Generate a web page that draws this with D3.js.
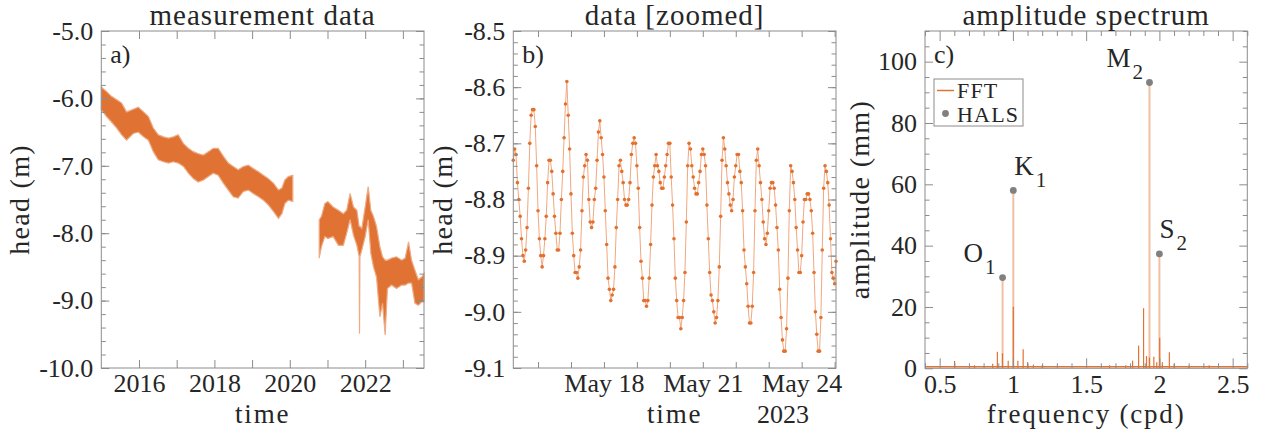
<!DOCTYPE html>
<html>
<head>
<meta charset="utf-8">
<script src="https://cdn.jsdelivr.net/npm/d3@7"></script>
<style>
  body { margin: 0; background: #fff; }
</style>
</head>
<body>
<svg id="chart"></svg>
<script>
const width = 1261, height = 434;
const serif = '"Liberation Serif", "Times New Roman", serif';
const grey = "#8c8c8c", ink = "#262626", orange = "#e07333";

// a) long record, drawn as the min/max band of the hourly heads; null marks the logger gap
const headYear = [2015.00, 2015.14, 2015.27, 2015.41, 2015.54, 2015.67, 2015.85, 2015.98, 2016.12, 2016.25,
  2016.38, 2016.51, 2016.65, 2016.78, 2016.91, 2017.04, 2017.18, 2017.31, 2017.44, 2017.57,
  2017.71, 2017.84, 2017.97, 2018.10, 2018.24, 2018.37, 2018.50, 2018.63, 2018.77, 2018.90,
  2019.03, 2019.17, 2019.30, 2019.43, 2019.57, 2019.70, 2019.79, 2019.87, 2019.96, 2020.08,
  2020.40,
  2020.78, 2020.84, 2020.93, 2021.01, 2021.15, 2021.29, 2021.42, 2021.51, 2021.60, 2021.69,
  2021.78, 2021.84, 2021.85, 2021.86, 2021.91, 2022.00, 2022.08, 2022.15, 2022.22, 2022.30,
  2022.39, 2022.46, 2022.53, 2022.59, 2022.70, 2022.83, 2022.97, 2023.06, 2023.15, 2023.23,
  2023.32, 2023.41, 2023.50, 2023.56];
const headUpper = [-5.83, -5.90, -5.97, -6.02, -6.07, -6.20, -6.16, -6.13, -6.20, -6.27,
  -6.44, -6.54, -6.57, -6.59, -6.57, -6.54, -6.67, -6.74, -6.79, -6.82,
  -6.84, -6.79, -6.74, -6.74, -6.86, -6.96, -7.01, -7.06, -7.01, -6.99,
  -7.04, -7.09, -7.14, -7.19, -7.26, -7.36, -7.33, -7.21, -7.16, -7.14,
  null,
  -7.80, -7.75, -7.56, -7.53, -7.61, -7.66, -7.71, -7.66, -7.41, -7.61,
  -7.66, -7.90, -7.90, -7.90, -7.93, -7.61, -7.31, -7.66, -7.75, -7.90,
  -8.20, -8.35, -8.40, -8.40, -8.37, -8.35, -8.40, -8.37, -8.13, -8.40,
  -8.55, -8.69, -8.65, -8.60];
const headLower = [-6.17, -6.27, -6.35, -6.44, -6.54, -6.62, -6.52, -6.50, -6.57, -6.62,
  -6.79, -6.91, -6.94, -6.96, -6.94, -6.96, -7.01, -7.11, -7.19, -7.24,
  -7.21, -7.16, -7.11, -7.14, -7.26, -7.36, -7.46, -7.48, -7.38, -7.36,
  -7.41, -7.46, -7.51, -7.58, -7.68, -7.78, -7.71, -7.56, -7.51, -7.53,
  null,
  -8.37, -8.20, -8.05, -8.08, -8.05, -8.18, -8.18, -8.00, -7.80, -8.03,
  -8.18, -8.35, -9.49, -8.35, -8.25, -8.05, -7.80, -8.30, -8.50, -8.65,
  -9.24, -9.04, -9.51, -8.82, -8.77, -8.82, -8.77, -8.77, -8.74, -8.74,
  -9.04, -9.07, -9.02, -9.02];
const yearTicks = [2016, 2017, 2018, 2019, 2020, 2021, 2022, 2023];

// b) hourly heads, 15 May 2023 06:00 onwards
const zoomStart = new Date(2023, 4, 15, 6);
const zoomHead = [
  -8.73, -8.71, -8.72, -8.77, -8.80, -8.83, -8.87, -8.90, -8.91, -8.89,
  -8.85, -8.78, -8.70, -8.65, -8.64, -8.64, -8.67, -8.74, -8.82, -8.87,
  -8.90, -8.92, -8.90, -8.87, -8.83, -8.77, -8.73, -8.73, -8.75, -8.79,
  -8.83, -8.86, -8.89, -8.89, -8.86, -8.80, -8.75, -8.69, -8.63, -8.59,
  -8.65, -8.71, -8.79, -8.86, -8.90, -8.93, -8.93, -8.94, -8.92, -8.89,
  -8.82, -8.76, -8.74, -8.72, -8.73, -8.80, -8.84, -8.85, -8.84, -8.80,
  -8.78,
  -8.73, -8.68, -8.66, -8.69, -8.72, -8.76, -8.82, -8.88, -8.94, -8.96,
  -8.98, -8.97, -8.96, -8.92, -8.85, -8.80, -8.74, -8.73, -8.75, -8.77,
  -8.80, -8.81, -8.81, -8.80, -8.77, -8.72, -8.70, -8.69, -8.70, -8.74,
  -8.78, -8.85, -8.91, -8.94, -8.98, -8.98, -8.99, -8.98, -8.94, -8.88,
  -8.81, -8.76, -8.74, -8.72, -8.74, -8.75, -8.77, -8.78, -8.78, -8.76,
  -8.74, -8.72, -8.70, -8.70,
  -8.76, -8.81, -8.87, -8.94, -8.98, -9.01, -9.01, -9.03, -9.01, -8.98,
  -8.93, -8.84, -8.74, -8.70, -8.71, -8.74, -8.76, -8.78, -8.79, -8.79,
  -8.77, -8.75, -8.72, -8.71, -8.72, -8.74, -8.81, -8.87, -8.93, -8.97,
  -8.98, -9.00, -9.02, -9.01, -8.98, -8.92, -8.83, -8.73, -8.69, -8.71,
  -8.74, -8.77, -8.79, -8.81, -8.82, -8.80, -8.76, -8.74, -8.72, -8.72,
  -8.75, -8.77, -8.82, -8.89, -8.92, -8.95, -8.99, -9.02, -9.02, -8.99,
  -8.93, -8.82, -8.73, -8.71, -8.74, -8.77, -8.80, -8.84, -8.87, -8.88,
  -8.86, -8.82, -8.78, -8.77, -8.77, -8.78, -8.81, -8.85, -8.89, -8.96,
  -9.01, -9.05, -9.07, -9.07, -9.03, -8.94, -8.82, -8.74, -8.75, -8.77,
  -8.80, -8.85, -8.89, -8.93, -8.93, -8.90, -8.84, -8.80, -8.80, -8.79,
  -8.79, -8.80, -8.82, -8.86, -8.93, -9.00, -9.04, -9.07, -9.07, -9.01,
  -8.89, -8.78, -8.74, -8.75, -8.77, -8.81, -8.87, -8.93, -8.94, -8.95,
  -8.91];
const zoomLabelDays = ["2023-05-18", "2023-05-21", "2023-05-24"];

// c) FFT peaks (cpd, mm) and the harmonic least-squares constituents
const fftFreq = [0.602, 0.738, 0.862, 0.894, 0.929, 0.968, 1.003, 1.034, 1.070, 1.100,
  1.140, 1.200, 1.660, 1.770, 1.817, 1.858, 1.892, 1.912, 1.932, 1.962,
  1.982, 2.002, 2.020, 2.068, 2.100, 2.200, 2.340];
const fftAmp = [2.4, 1.0, 1.5, 5.4, 4.9, 2.5, 20.1, 2.5, 6.2, 2.0,
  1.2, 1.0, 1.0, 1.0, 2.5, 7.4, 19.6, 4.0, 3.5, 3.8,
  2.0, 10.0, 2.0, 5.2, 1.5, 0.8, 1.0];
const fftFloor = 0.5;
const halsName = ["O1", "K1", "M2", "S2"];
const halsFreq = [0.9295, 1.0027, 1.9323, 2.0];
const halsAmp = [29.6, 58.0, 93.2, 37.3];

const svg = d3.select("#chart").attr("width", width).attr("height", height);

function frame(g, x, y, o) {
  const [xl, xr] = x.range(), [yb, yt] = y.range();
  const ax = (axis, tx, ty, vals, len, fmt, pad) => {
    const s = g.append("g").attr("transform", `translate(${tx},${ty})`)
      .call(axis.tickValues(vals).tickSize(-len).tickSizeOuter(0).tickPadding(pad || 8)
        .tickFormat(fmt || (() => "")));
    s.select(".domain").remove();
    s.selectAll("line").attr("stroke", grey);
    // unlabelled ticks keep no text nodes
    s.selectAll("text").filter(function () { return this.textContent === ""; }).remove();
    s.selectAll("text").attr("font-family", serif).attr("font-size", 26).attr("fill", ink);
  };
  ax(d3.axisBottom(x), 0, yb, o.xMinor, o.xMinorLen);
  ax(d3.axisTop(x), 0, yt, o.xMinor, o.xMinorLen);
  ax(d3.axisBottom(x), 0, yb, o.xMajor, o.xLen, o.xFmt, 6);
  ax(d3.axisTop(x), 0, yt, o.xMajor, o.xLen);
  ax(d3.axisLeft(y), xl, 0, o.yMinor, 4.5);
  ax(d3.axisRight(y), xr, 0, o.yMinor, 4.5);
  ax(d3.axisLeft(y), xl, 0, o.yMajor, 8, o.yFmt);
  ax(d3.axisRight(y), xr, 0, o.yMajor, 8);
  g.append("rect").attr("x", xl).attr("y", yt).attr("width", xr - xl).attr("height", yb - yt)
    .attr("fill", "none").attr("stroke", grey);
}

function labels(g, x, y, o) {
  const [xl, xr] = x.range(), [yb, yt] = y.range();
  const t = (tx, ty, s, size) => g.append("text").attr("x", tx).attr("y", ty).text(s)
    .attr("font-family", serif).attr("font-size", size).attr("fill", ink);
  t((xl + xr) / 2, 25, o.title, 29).attr("text-anchor", "middle").attr("letter-spacing", 1);
  t((xl + xr) / 2, 423, o.xlab, 27).attr("text-anchor", "middle").attr("letter-spacing", 1.8);
  g.append("text").attr("transform", `translate(${o.ylabX},${(yb + yt) / 2}) rotate(-90)`)
    .attr("text-anchor", "middle").text(o.ylab)
    .attr("font-family", serif).attr("font-size", 28).attr("fill", ink).attr("letter-spacing", 1.3);
  t(xl + 9, yt + 32, o.tag, 26);
}

const range = (a, b, s) => d3.range(Math.round(a / s), Math.round(b / s) + 1).map(i => +(i * s).toFixed(3));

// ---------- a) measurement data
const ga = svg.append("g");
const xa = d3.scaleLinear().domain([2015.0, 2023.56]).range([101.3, 424]);
const ya = d3.scaleLinear().domain([-10, -5]).range([368, 31]);
const bandRows = headYear.map((t, i) => ({ t, hi: headUpper[i], lo: headLower[i] }));
const band = d3.area().defined(d => d.hi !== null)
  .x(d => xa(d.t)).y0(d => ya(d.lo)).y1(d => ya(d.hi));
ga.append("path").datum(bandRows).attr("d", band)
  .attr("fill", orange).attr("stroke", "#eeab84").attr("stroke-width", 1.2);
frame(ga, xa, ya, {
  xMajor: yearTicks, xLen: 8, xFmt: d => (d % 2 === 0 ? d : ""),
  xMinor: [], xMinorLen: 0,
  yMajor: range(-10, -5, 1), yMinor: range(-10, -5, 0.2), yFmt: d => d.toFixed(1)
});
labels(ga, xa, ya, { title: "measurement data", xlab: "time", ylab: "head (m)", ylabX: 29, tag: "a)" });

// ---------- b) data [zoomed]
const gb = svg.append("g");
const zoomRows = zoomHead.map((v, i) => ({ t: d3.timeHour.offset(zoomStart, i), v }));
const xb = d3.scaleTime().domain(d3.extent(zoomRows, d => d.t)).range([513.3, 836]);
const yb = d3.scaleLinear().domain([-9.1, -8.5]).range([368, 31]);
const dayTicks = d3.timeDay.range(d3.timeDay.ceil(xb.domain()[0]), xb.domain()[1]);
const labelDays = zoomLabelDays.map(s => d3.timeParse("%Y-%m-%d")(s));
gb.append("path").datum(zoomRows)
  .attr("d", d3.line().x(d => xb(d.t)).y(d => yb(d.v)))
  .attr("fill", "none").attr("stroke", "#f1a87f").attr("stroke-width", 1);
gb.selectAll(".pt").data(zoomRows).join("circle").attr("class", "pt")
  .attr("cx", d => xb(d.t)).attr("cy", d => yb(d.v)).attr("r", 1.8).attr("fill", "#e2712f");
frame(gb, xb, yb, {
  xMajor: labelDays, xLen: 6, xFmt: d3.timeFormat("%b %d"),
  xMinor: dayTicks.filter(d => !labelDays.some(l => +l === +d)), xMinorLen: 6,
  yMajor: range(-9.1, -8.5, 0.1), yMinor: range(-9.1, -8.5, 0.02), yFmt: d => d.toFixed(1)
});
labels(gb, xb, yb, { title: "data [zoomed]", xlab: "time", ylab: "head (m)", ylabX: 452, tag: "b)" });
gb.append("text").attr("x", 783).attr("y", 423).attr("text-anchor", "middle")
  .text(d3.timeFormat("%Y")(zoomStart))
  .attr("font-family", serif).attr("font-size", 26).attr("fill", ink);

// ---------- c) amplitude spectrum
const gc = svg.append("g");
const xc = d3.scaleLinear().domain([0.4, 2.6]).range([925, 1247.3]);
const yc = d3.scaleLinear().domain([0, 110]).range([368.3, 31]);
gc.append("line").attr("x1", xc(0.4)).attr("x2", xc(2.6))
  .attr("y1", yc(fftFloor)).attr("y2", yc(fftFloor))
  .attr("stroke", orange).attr("stroke-width", 1.6);
gc.selectAll(".stem").data(halsFreq).join("line").attr("class", "stem")
  .attr("x1", d => xc(d)).attr("x2", d => xc(d))
  .attr("y1", yc(0)).attr("y2", (d, i) => yc(halsAmp[i]))
  .attr("stroke", orange).attr("stroke-opacity", 0.45).attr("stroke-width", 2);
gc.selectAll(".fft").data(fftFreq).join("line").attr("class", "fft")
  .attr("x1", d => xc(d)).attr("x2", d => xc(d))
  .attr("y1", yc(0)).attr("y2", (d, i) => yc(fftAmp[i]))
  .attr("stroke", orange).attr("stroke-width", 1.2);
gc.selectAll(".hals").data(halsFreq).join("circle").attr("class", "hals")
  .attr("cx", d => xc(d)).attr("cy", (d, i) => yc(halsAmp[i])).attr("r", 3.4).attr("fill", "#808080");

// constituent names sit up-left or up-right of their dots
const nameDx = [-39, 1, -43, 0];
halsName.forEach((n, i) => {
  const tx = gc.append("text")
    .attr("x", xc(halsFreq[i]) + nameDx[i]).attr("y", yc(halsAmp[i]) - 15.5)
    .attr("font-family", serif).attr("font-size", 27).attr("fill", ink).text(n[0]);
  tx.append("tspan").attr("dx", 2).attr("dy", 12).attr("font-size", 21).text(n.slice(1));
});

frame(gc, xc, yc, {
  xMajor: range(0.5, 2.5, 0.5), xLen: 10, xFmt: d => String(d),
  xMinor: range(0.4, 2.6, 0.1).filter(d => Math.abs(d * 2 - Math.round(d * 2)) > 1e-6), xMinorLen: 5,
  yMajor: range(0, 100, 20), yMinor: range(0, 110, 5).filter(d => d % 20 !== 0 || d > 100), yFmt: d => String(d)
});
labels(gc, xc, yc, { title: "amplitude spectrum", xlab: "frequency (cpd)", ylab: "amplitude (mm)", ylabX: 869, tag: "c)" });

// legend
const lg = gc.append("g").attr("transform", `translate(${xc.range()[0] + 9},${yc.range()[1] + 48})`);
lg.append("rect").attr("width", 89).attr("height", 47).attr("fill", "#fff").attr("stroke", grey);
lg.append("line").attr("x1", 3).attr("x2", 20).attr("y1", 11.5).attr("y2", 11.5)
  .attr("stroke", orange).attr("stroke-width", 1.5);
lg.append("circle").attr("cx", 11.5).attr("cy", 34.5).attr("r", 3.4).attr("fill", "#808080");
[["FFT", 18.5], ["HALS", 43]].forEach(([s, yy]) =>
  lg.append("text").attr("x", 23).attr("y", yy).text(s)
    .attr("font-family", serif).attr("font-size", 22).attr("fill", ink).attr("letter-spacing", 1.2));
</script>
</body>
</html>
